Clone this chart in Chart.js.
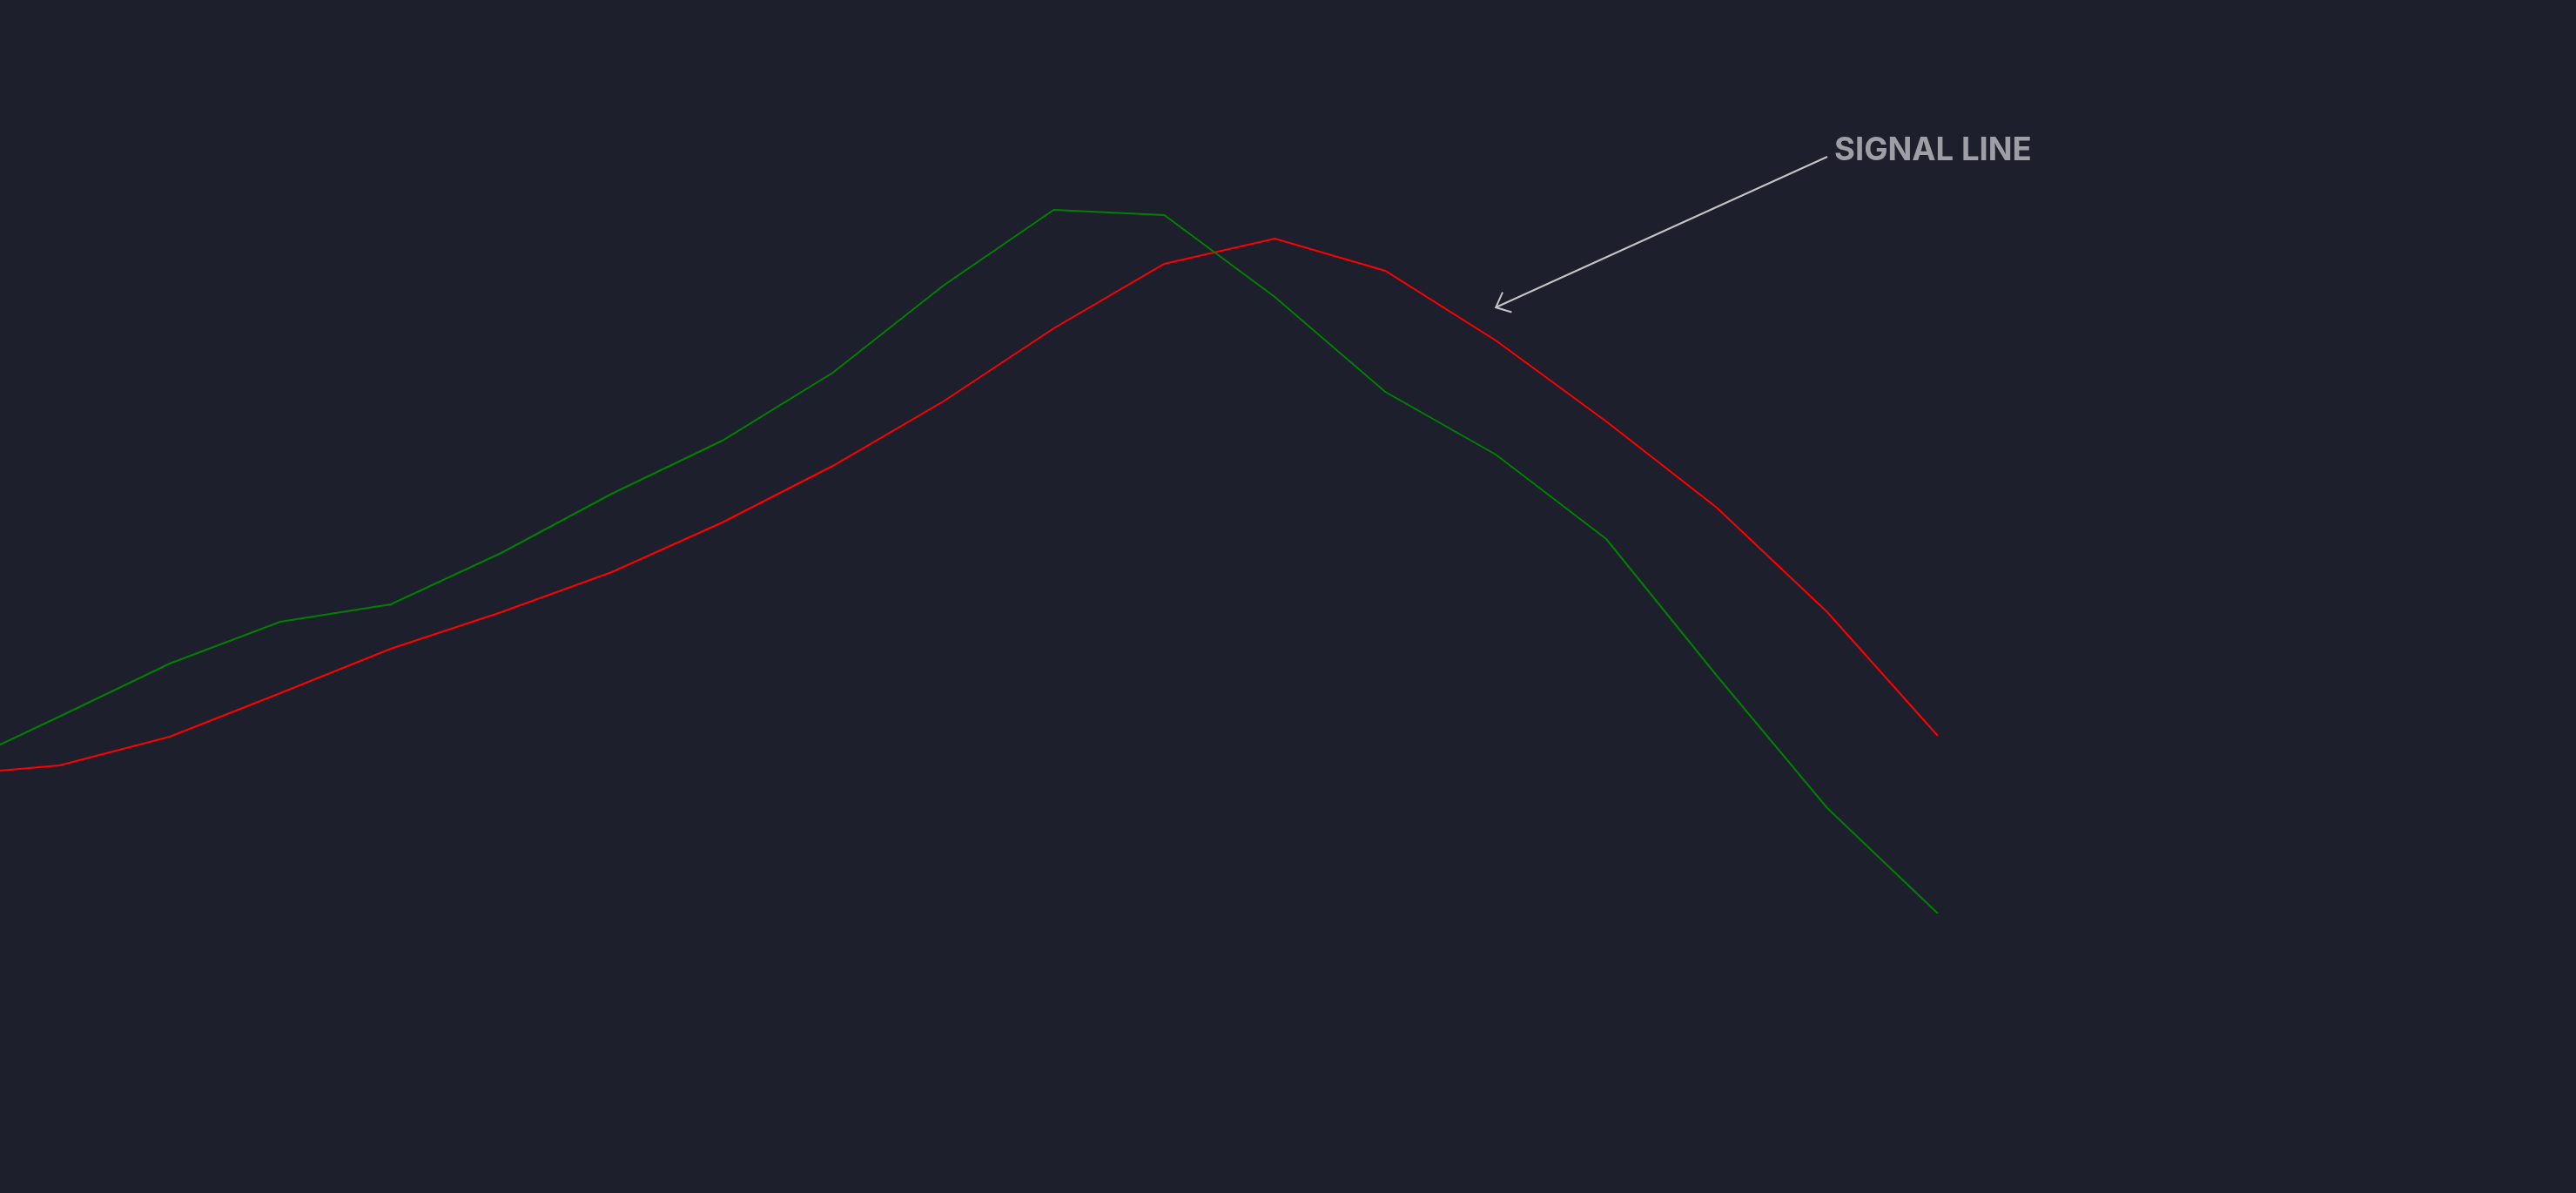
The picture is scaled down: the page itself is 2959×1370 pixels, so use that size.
<!DOCTYPE html>
<html>
<head>
<meta charset="utf-8">
<script src="https://cdn.jsdelivr.net/npm/chart.js@4/dist/chart.umd.min.js"></script>
<style>
  html, body { margin: 0; padding: 0; background: #1e1f2d; }
  #wrap { width: 2959px; height: 1370px; position: relative; }
</style>
</head>
<body>
<div id="wrap"><canvas id="chart"></canvas></div>
<script>
// bar index (first one is cut off at the left edge)
const bars = [-1, 0, 1, 2, 3, 4, 5, 6, 7, 8, 9, 10, 11, 12, 13, 14, 15, 16, 17];

const macd = [48.7, 54.7, 60.8, 65.6, 67.6, 73.5, 80.3, 86.4, 94.2, 104.2,
  112.9, 112.3, 102.9, 92.0, 84.8, 75.1, 59.4, 44.2, 32.1];

const signal = [48.0, 49.1, 52.4, 57.4, 62.5, 66.7, 71.3, 77.0, 83.5, 90.9,
  99.3, 106.7, 109.6, 105.9, 97.9, 88.6, 78.7, 66.7, 52.5];

// annotation: arrow from label anchor to the signal line
const note_text = "SIGNAL LINE";
const note_from = [16, 119.0];
const note_to = [13, 101.7];

const to_points = (vals) => vals.map((v, i) => ({ x: bars[i], y: v }));

const arrowNote = {
  id: "arrowNote",
  afterDatasetsDraw(chart) {
    const { ctx, scales } = chart;
    const x1 = scales.x.getPixelForValue(note_from[0]);
    const y1 = scales.y.getPixelForValue(note_from[1]);
    const x2 = scales.x.getPixelForValue(note_to[0]);
    const y2 = scales.y.getPixelForValue(note_to[1]);
    ctx.save();
    ctx.strokeStyle = "#c4c4c8";
    ctx.lineWidth = 2;
    ctx.beginPath();
    ctx.moveTo(x1, y1);
    ctx.lineTo(x2, y2);
    // open arrow head
    const ang = Math.atan2(y2 - y1, x2 - x1);
    const len = 19;
    ctx.moveTo(x2 + len * Math.cos(ang + Math.PI - 0.72), y2 + len * Math.sin(ang + Math.PI - 0.72));
    ctx.lineTo(x2, y2);
    ctx.lineTo(x2 + len * Math.cos(ang + Math.PI + 0.72), y2 + len * Math.sin(ang + Math.PI + 0.72));
    ctx.stroke();
    ctx.fillStyle = "#9e9ea6";
    ctx.font = "700 36.5px Inter, 'Noto Sans', sans-serif";
    ctx.textBaseline = "alphabetic";
    ctx.fillText(note_text, x1 + 8, y1 + 4);
    ctx.restore();
  },
};

new Chart(document.getElementById("chart"), {
  type: "line",
  data: {
    datasets: [
      {
        label: "MACD",
        data: to_points(macd),
        borderColor: "#008000",
        borderWidth: 2,
        pointRadius: 0,
        tension: 0,
      },
      {
        label: "Signal",
        data: to_points(signal),
        borderColor: "#ff0000",
        borderWidth: 2,
        pointRadius: 0,
        tension: 0,
      },
    ],
  },
  options: {
    responsive: true,
    maintainAspectRatio: false,
    animation: false,
    layout: { padding: 0 },
    plugins: { legend: { display: false }, tooltip: { enabled: false } },
    scales: {
      x: { type: "linear", min: -0.536, max: 22.775, display: false },
      y: { min: 0, max: 137, display: false },
    },
  },
  plugins: [arrowNote],
});
</script>
</body>
</html>
